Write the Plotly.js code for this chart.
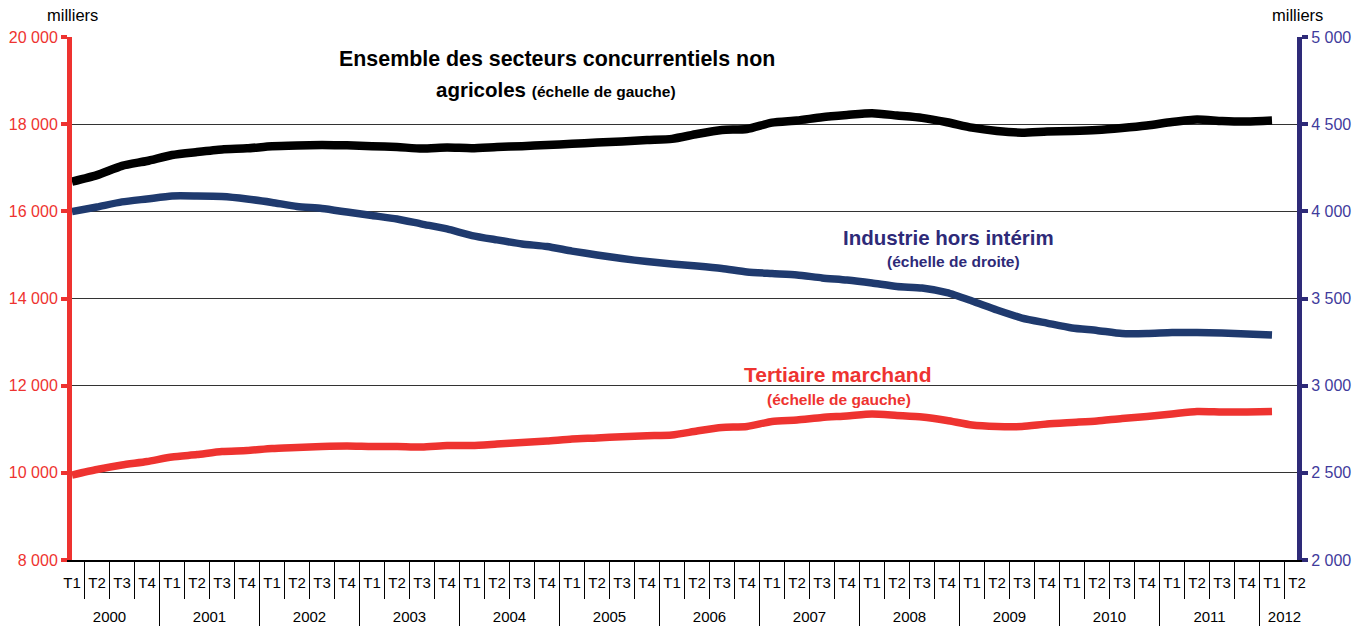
<!DOCTYPE html>
<html>
<head>
<meta charset="utf-8">
<script src="https://cdn.plot.ly/plotly-3.0.1.min.js"></script>
<style>html,body{margin:0;padding:0;background:#fff}#chart{width:1369px;height:631px}</style>
</head>
<body>
<div id="chart"></div>
<script>
// Categories
const years = ['2000','2001','2002','2003','2004','2005','2006','2007','2008','2009','2010','2011','2012'];
const quarters = ['T1','T2','T3','T4'];
const lastYearQuarters = ['T1','T2'];

// Series (milliers)
const ensemble = [16680,16830,17045,17155,17293,17361,17420,17445,17492,17510,17520,17515,
  17495,17475,17440,17462,17450,17476,17495,17522,17548,17580,17602,17637,17662,17774,17866,17889,
  18035,18084,18160,18210,18252,18199,18145,18045,17920,17843,17805,17832,17843,17866,17912,17970,
  18050,18107,18073,18061,18084];
const industrie = [3998,4025,4054,4071,4088,4088,4085,4071,4051,4028,4016,3996,
  3976,3956,3927,3899,3861,3836,3813,3798,3772,3750,3729,3712,3698,3686,3672,3652,
  3643,3635,3618,3606,3589,3569,3560,3534,3486,3434,3388,3359,3331,3317,3299,3299,
  3305,3305,3302,3296,3291];
const tertiaire = [9950,10076,10180,10260,10363,10420,10489,10512,10558,10581,10604,10615,
  10604,10604,10593,10627,10627,10661,10696,10730,10776,10799,10829,10852,10868,10960,11040,11063,
  11178,11212,11270,11304,11350,11316,11281,11201,11097,11063,11063,11120,11155,11189,11247,11293,
  11350,11407,11396,11396,11407];

// Build multicategory x (quarter labels get an empty second line to leave room above the year row)
const xYear = [], xQ = [];
years.forEach(y => {
  const qs = (y === '2012') ? lastYearQuarters : quarters;
  qs.forEach(q => { xYear.push(y); xQ.push(q + '<br><span style="font-size:35px">\u00a0</span>'); });
});
const pad = arr => arr.concat(new Array(xQ.length - arr.length).fill(null));

const RED = '#ee3330', NAVY = '#1f3a6e', INDIGO = '#2e2a78', FONT = 'Liberation Sans, Arial, sans-serif';

const traces = [
  {x:[xYear,xQ], y:pad(tertiaire), type:'scatter', mode:'lines', line:{color:RED, width:7.5, shape:'spline', smoothing:0.6}, yaxis:'y', hoverinfo:'y'},
  {x:[xYear,xQ], y:pad(industrie), type:'scatter', mode:'lines', line:{color:NAVY, width:7.5, shape:'spline', smoothing:0.6}, yaxis:'y2', hoverinfo:'y'},
  {x:[xYear,xQ], y:pad(ensemble), type:'scatter', mode:'lines', line:{color:'#000', width:8.5, shape:'spline', smoothing:0.6}, yaxis:'y', hoverinfo:'y'}
];

function paperX(px){ return (px-72)/1225; }
function paperY(py){ return (560-py)/523; }

const layout = {
  width:1369, height:631,
  margin:{l:72, r:72, t:37, b:71},
  paper_bgcolor:'#fff', plot_bgcolor:'#fff',
  showlegend:false,
  separators:', ',
  font:{family:FONT, size:15, color:'#000'},
  xaxis:{
    type:'multicategory',
    tickangle:0,
    ticklabelstandoff:8,
    showline:true, linecolor:'#000', linewidth:1.5,
    ticks:'outside', ticklen:37, tickcolor:'#000', tickwidth:1,
    showdividers:true, dividercolor:'#000', dividerwidth:1,
    tickfont:{family:FONT, size:15, color:'#000'},
    showgrid:false, zeroline:false
  },
  yaxis:{
    range:[8000,20000], dtick:2000, tick0:8000,
    tickformat:',d', exponentformat:'none', separatethousands:true,
    showline:true, linecolor:RED, linewidth:5,
    ticks:'outside', ticklen:6, tickwidth:4, tickcolor:RED,
    tickfont:{family:FONT, size:16, color:RED},
    showgrid:true, gridcolor:'#333', gridwidth:1, zeroline:false
  },
  yaxis2:{
    range:[2000,5000], dtick:500, tick0:2000,
    tickformat:',d', exponentformat:'none', separatethousands:true,
    overlaying:'y', side:'right',
    showline:true, linecolor:INDIGO, linewidth:5,
    ticks:'outside', ticklen:6, tickwidth:4, tickcolor:INDIGO,
    tickfont:{family:FONT, size:16, color:'#3f3b9c'},
    showgrid:false, zeroline:false
  },
  annotations:[
    {xref:'paper', yref:'paper', x:0, y:1, yshift:22, xanchor:'center', yanchor:'middle', showarrow:false, text:'milliers', font:{family:FONT,size:16.5,color:'#000'}},
    {xref:'paper', yref:'paper', x:1, y:1, yshift:22, xanchor:'center', yanchor:'middle', showarrow:false, text:'milliers', font:{family:FONT,size:16.5,color:'#000'}},
    {xref:'paper', yref:'paper', x:paperX(557), y:paperY(59), xanchor:'center', yanchor:'middle', showarrow:false,
     text:'<b>Ensemble des secteurs concurrentiels non</b>', font:{family:FONT,size:21.4,color:'#000'}},
    {xref:'paper', yref:'paper', x:paperX(556), y:paperY(89), xanchor:'center', yanchor:'middle', showarrow:false,
     text:'<b>agricoles</b> <b><span style="font-size:15.5px">(échelle de gauche)</span></b>', font:{family:FONT,size:20.5,color:'#000'}},
    {xref:'paper', yref:'paper', x:paperX(948), y:paperY(237), xanchor:'center', yanchor:'middle', showarrow:false,
     text:'<b>Industrie hors intérim</b>', font:{family:FONT,size:20.5,color:INDIGO}},
    {xref:'paper', yref:'paper', x:paperX(953), y:paperY(261), xanchor:'center', yanchor:'middle', showarrow:false,
     text:'<b>(échelle de droite)</b>', font:{family:FONT,size:15.5,color:INDIGO}},
    {xref:'paper', yref:'paper', x:paperX(838), y:paperY(374), xanchor:'center', yanchor:'middle', showarrow:false,
     text:'<b>Tertiaire marchand</b>', font:{family:FONT,size:21,color:RED}},
    {xref:'paper', yref:'paper', x:paperX(839), y:paperY(399), xanchor:'center', yanchor:'middle', showarrow:false,
     text:'<b>(échelle de gauche)</b>', font:{family:FONT,size:15.5,color:RED}}
  ]
};

Plotly.newPlot('chart', traces, layout, {displayModeBar:false, staticPlot:true});
</script>
</body>
</html>
